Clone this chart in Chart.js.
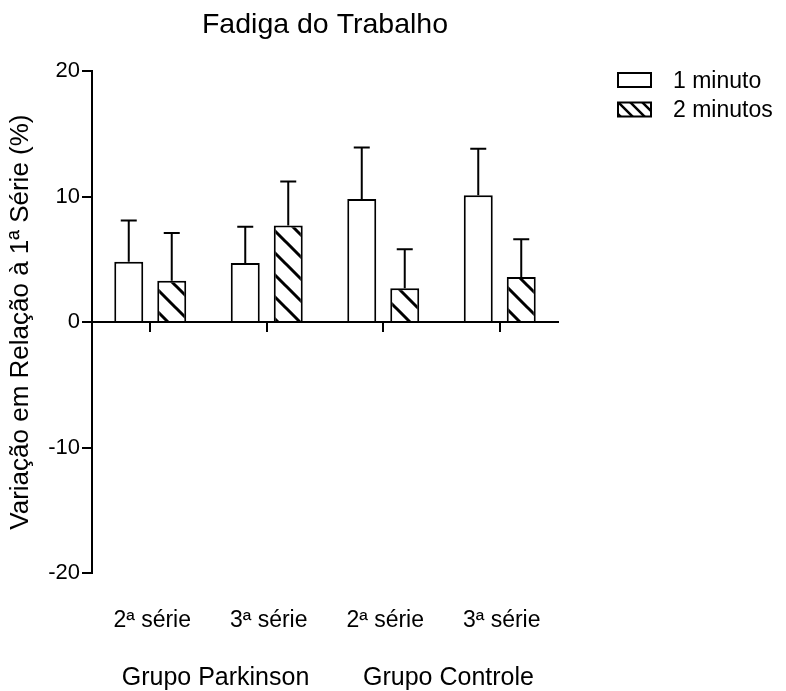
<!DOCTYPE html>
<html>
<head>
<meta charset="utf-8">
<script src="https://cdn.jsdelivr.net/npm/chart.js@4.4.1/dist/chart.umd.min.js"></script>
<style>
  body { margin: 0; background: #fff; }
</style>
</head>
<body>
<canvas id="fadigaChart" width="786" height="691"></canvas>
<script>
// categories and groups
const categories = ['2ª série', '3ª série', '2ª série', '3ª série'];
const groups = ['Grupo Parkinson', 'Grupo Controle'];
const seriesNames = ['1 minuto', '2 minutos'];

// means and upper error (SD)
const oneMinute = [4.8, 4.7, 9.8, 10.1];
const oneMinuteErr = [3.3, 2.9, 4.1, 3.7];
const twoMinutes = [3.3, 7.7, 2.7, 3.6];
const twoMinutesErr = [3.8, 3.5, 3.1, 3.0];

const yTicks = [-20, -10, 0, 10, 20];

const fontFamily = 'Arial, "Liberation Sans", sans-serif';
Chart.defaults.font.family = fontFamily;
Chart.defaults.color = '#000';

// diagonal hatch pattern ("\\\") for the second series
function makeHatch(s, w) {
  const c = document.createElement('canvas');
  c.width = s; c.height = s;
  const g = c.getContext('2d');
  g.fillStyle = '#fff';
  g.fillRect(0, 0, s, s);
  g.strokeStyle = '#000';
  g.lineWidth = w;
  g.beginPath();
  [-s, 0, s].forEach(function(o) {
    g.moveTo(-2, o - 2);
    g.lineTo(s + 2, o + s + 2);
  });
  g.stroke();
  return g.createPattern(c, 'repeat');
}
const hatch = makeHatch(22, 3);
const legendHatch = makeHatch(12, 2.5);

const errors = [oneMinuteErr, twoMinutesErr];

const errorBars = {
  id: 'errorBars',
  afterDatasetsDraw(chart) {
    const ctx = chart.ctx;
    const y = chart.scales.y;
    ctx.save();
    ctx.strokeStyle = '#000';
    ctx.lineWidth = 2;
    chart.data.datasets.forEach(function(ds, i) {
      const meta = chart.getDatasetMeta(i);
      meta.data.forEach(function(bar, j) {
        const top = y.getPixelForValue(ds.data[j] + errors[i][j]);
        ctx.beginPath();
        ctx.moveTo(bar.x, bar.y);
        ctx.lineTo(bar.x, top);
        ctx.moveTo(bar.x - 8, top);
        ctx.lineTo(bar.x + 8, top);
        ctx.stroke();
      });
    });
    ctx.restore();
  }
};

const boxLegend = {
  id: 'boxLegend',
  afterDraw(chart) {
    const ctx = chart.ctx;
    ctx.save();
    ctx.font = '23px ' + fontFamily;
    ctx.textBaseline = 'middle';
    ctx.textAlign = 'left';
    chart.data.datasets.forEach(function(ds, i) {
      const top = 73 + i * 29.5;
      ctx.fillStyle = i === 1 ? legendHatch : ds.backgroundColor;
      ctx.fillRect(618, top, 33, 14);
      ctx.strokeStyle = '#000';
      ctx.lineWidth = 2;
      ctx.strokeRect(618, top, 33, 14);
      ctx.fillStyle = '#000';
      ctx.fillText(ds.label, 673, top + 8.5);
    });
    ctx.restore();
  }
};

new Chart(document.getElementById('fadigaChart').getContext('2d'), {
  type: 'bar',
  data: {
    labels: categories,
    datasets: [
      {
        label: seriesNames[0],
        data: oneMinute,
        backgroundColor: '#ffffff',
        borderColor: '#000',
        borderWidth: 2,
        barPercentage: 0.674,
        categoryPercentage: 0.738
      },
      {
        label: seriesNames[1],
        data: twoMinutes,
        backgroundColor: hatch,
        borderColor: '#000',
        borderWidth: 2,
        barPercentage: 0.674,
        categoryPercentage: 0.738
      }
    ]
  },
  options: {
    responsive: false,
    animation: false,
    layout: { padding: { left: 0, right: 228, top: 0, bottom: 0 } },
    plugins: {
      legend: { display: false },
      tooltip: { enabled: false },
      title: {
        display: true,
        fullSize: false,
        text: 'Fadiga do Trabalho',
        color: '#000',
        font: { size: 28.5, weight: 'normal' },
        padding: { top: 8, bottom: 28.8 }
      }
    },
    scales: {
      x: {
        position: 'bottom',
        weight: 0,
        grid: { display: false, drawTicks: false },
        border: { display: false },
        ticks: { font: { size: 23 }, color: '#000', padding: 33.2, maxRotation: 0, labelOffset: 2 },
        afterFit: function(s) { s.height = 60.2; }
      },
      xg: {
        type: 'category',
        labels: groups,
        position: 'bottom',
        weight: 1,
        offset: true,
        grid: { display: false, drawTicks: false },
        border: { display: false },
        ticks: { font: { size: 25 }, color: '#000', padding: 30, maxRotation: 0, labelOffset: 7 },
        afterFit: function(s) { s.height = 57.6; }
      },
      x0: {
        type: 'category',
        labels: categories,
        position: { y: 0 },
        offset: true,
        grid: { display: true, offset: false, drawOnChartArea: false, drawTicks: true, tickLength: 9, color: '#000', lineWidth: 2 },
        border: { display: true, color: '#000', width: 2 },
        ticks: { display: false }
      },
      y: {
        position: 'left',
        min: -20,
        max: 20,
        afterBuildTicks: function(s) { s.ticks = yTicks.map(function(v) { return { value: v }; }); },
        grid: { drawOnChartArea: false, drawTicks: true, tickLength: 10, color: '#000', lineWidth: 2 },
        border: { display: true, color: '#000', width: 2 },
        ticks: { font: { size: 22 }, color: '#000', padding: 2 },
        title: {
          display: true,
          text: 'Variação em Relação à 1ª Série (%)',
          color: '#000',
          font: { size: 26 },
          padding: { top: 5, bottom: 0 }
        },
        afterFit: function(s) { s.width = 92; }
      }
    }
  },
  plugins: [errorBars, boxLegend]
});
</script>
</body>
</html>
